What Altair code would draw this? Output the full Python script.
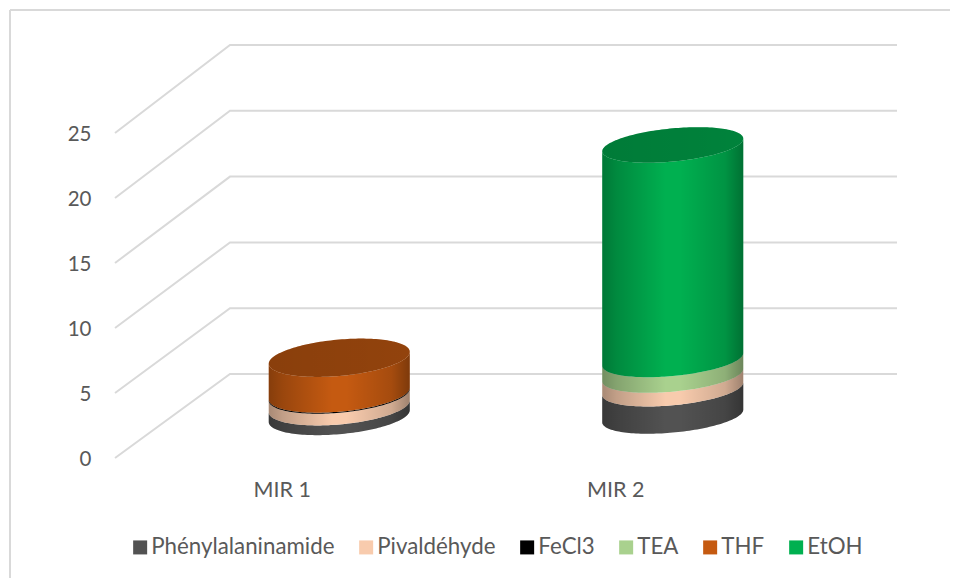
import json
import numpy as np
import pandas as pd
import altair as alt

# --- values ---
CATEGORIES = ["MIR 1", "MIR 2"]
SERIES = ["Phénylalaninamide", "Pivaldéhyde", "FeCl3", "TEA", "THF", "EtOH"]
COLORS = ["#525252", "#f8cbad", "#000000", "#a9d18e", "#c55a11", "#00b050"]
PHENYL = [0.75, 2.1]
PIVAL = [0.9, 1.05]
FECL3 = [0.08, 0.0]
TEA = [0.0, 1.2]
THF = [2.75, 0.0]
ETOH = [0.0, 16.5]
VALUES = [PHENYL, PIVAL, FECL3, TEA, THF, ETOH]
TICKS = [0, 5, 10, 15, 20, 25]

# --- layout of the fake 3D box (pixels) ---
W, H = 940, 568
LEFT, TOP = 10, 10
FLOOR_FRONT_X, FLOOR_FRONT_Y = 115, 458
CAT_W = 333.5
PX_PER_UNIT = 13.0
BACK_PX_PER_UNIT = 13.16
DEPTH_X, DEPTH_Y = 115, 84
BACK_RIGHT_X = 897
HALF_W = 70.5
TILT = [0.085, 0.09]
HALF_D = [18.2, 16.6]


def xv(px):
    return 0.5 + (px - FLOOR_FRONT_X) / CAT_W


def yv(px):
    return (FLOOR_FRONT_Y - px) / PX_PER_UNIT


x_scale = alt.Scale(domain=[xv(LEFT), xv(LEFT + W)], nice=False, zero=False)
y_scale = alt.Scale(domain=[yv(TOP + H), yv(TOP)], nice=False, zero=False)

# gridlines: front edge -> back edge -> right end
grid_rows = []
for t in TICKS:
    back = yv(FLOOR_FRONT_Y - DEPTH_Y - BACK_PX_PER_UNIT * t)
    for k, (xp, yy) in enumerate(
        [(FLOOR_FRONT_X, t), (FLOOR_FRONT_X + DEPTH_X, back), (BACK_RIGHT_X, back)]
    ):
        grid_rows.append({"tick": t, "k": k, "x": xv(xp), "y": yy})
grid_df = pd.DataFrame(grid_rows)

# cylinders
cos_t = -np.cos(np.linspace(0, np.pi, 81))
bands, shades, caps = [], [], []
mid_lift = DEPTH_Y / 2 / PX_PER_UNIT
for c, cat in enumerate(CATEGORIES):
    cx = c + 1 + DEPTH_X / 2 / CAT_W
    run = mid_lift
    start = run
    dx_units = cos_t * HALF_W / CAT_W
    shear = TILT[c] * cos_t * HALF_W / PX_PER_UNIT
    arc = HALF_D[c] * np.sqrt(1 - cos_t**2) / PX_PER_UNIT
    top_series = None
    for s, vals in zip(SERIES, VALUES):
        v = vals[c]
        if v <= 0:
            continue
        for d, sh, a in zip(dx_units, shear, arc):
            bands.append({"cat": cat, "series": s, "x": cx + d,
                          "y": run + sh - a, "y2": run + v + sh - a})
        run += v
        top_series = s
    for d, sh, a in zip(dx_units, shear, arc):
        shades.append({"cat": cat, "x": cx + d, "y": start + sh - a, "y2": run + sh - a})
        caps.append({"cat": cat, "series": top_series, "x": cx + d,
                     "y": run + sh - a, "y2": run + sh + a})
bands_df = pd.DataFrame(bands)
shades_df = pd.DataFrame(shades)
caps_df = pd.DataFrame(caps)

X = alt.X("x:Q", scale=x_scale,
          axis=alt.Axis(values=[1, 2], title=None, grid=False, domain=False, ticks=False,
                        labelExpr=json.dumps(CATEGORIES) + "[datum.value-1]",
                        labelFont="Lato", labelFontSize=21.5, labelColor="#595959",
                        labelPadding=0, offset=-(TOP + H - 479)))
Y = alt.Y("y:Q", scale=y_scale,
          axis=alt.Axis(values=TICKS, title=None, grid=False, domain=False, ticks=False,
                        labelFont="Lato", labelFontSize=20.5, labelColor="#595959",
                        labelPadding=0, labelOffset=1, offset=-(91 - LEFT)))
color = alt.Color(
    "series:N",
    scale=alt.Scale(domain=SERIES, range=COLORS),
    legend=alt.Legend(
        title=None, orient="none", legendX=119, legendY=526, direction="horizontal",
        columns=6, symbolType="square", symbolSize=196, symbolStrokeWidth=0,
        labelFont="Lato", labelFontSize=22.3, labelColor="#595959", labelOffset=0,
        columnPadding=20, padding=0, labelLimit=300,
    ),
)

one = pd.DataFrame({"a": [0]})
border_top = alt.Chart(one).mark_rule(color="#d9d9d9", strokeWidth=2).encode(
    x=alt.value(0), x2=alt.value(W), y=alt.value(0))
border_left = alt.Chart(one).mark_rule(color="#d9d9d9", strokeWidth=2).encode(
    x=alt.value(0), y=alt.value(0), y2=alt.value(H))

grid = alt.Chart(grid_df).mark_line(color="#d9d9d9", strokeWidth=2).encode(
    x=X, y=Y, detail="tick:N", order="k:Q",
)

side_grad = alt.Gradient(
    gradient="linear", x1=0, x2=1, y1=0, y2=0,
    stops=[
        alt.GradientStop(offset=0, color="rgba(0,0,0,0.32)"),
        alt.GradientStop(offset=0.1, color="rgba(0,0,0,0.22)"),
        alt.GradientStop(offset=0.45, color="rgba(0,0,0,0)"),
        alt.GradientStop(offset=0.55, color="rgba(0,0,0,0)"),
        alt.GradientStop(offset=0.87, color="rgba(0,0,0,0.16)"),
        alt.GradientStop(offset=1, color="rgba(0,0,0,0.36)"),
    ],
)
cap_grad = alt.Gradient(
    gradient="linear", x1=0, x2=1, y1=0, y2=0,
    stops=[
        alt.GradientStop(offset=0, color="rgba(0,0,0,0.3)"),
        alt.GradientStop(offset=1, color="rgba(0,0,0,0.26)"),
    ],
)

band_layer = alt.Chart(bands_df).mark_area(orient="vertical").encode(
    x=X, y=Y, y2="y2:Q", color=color, detail="cat:N")
shade_layer = alt.Chart(shades_df).mark_area(orient="vertical", color=side_grad).encode(
    x=X, y=Y, y2="y2:Q", detail="cat:N")
cap_layer = alt.Chart(caps_df).mark_area(orient="vertical").encode(
    x=X, y=Y, y2="y2:Q", color=color, detail="cat:N")
cap_shade = alt.Chart(caps_df).mark_area(orient="vertical", color=cap_grad).encode(
    x=X, y=Y, y2="y2:Q", detail="cat:N")

chart = alt.layer(
    border_top, border_left, grid, band_layer, shade_layer, cap_layer, cap_shade
).properties(
    width=W, height=H,
    padding={"left": 2, "top": 2, "right": 0, "bottom": 0},
    autosize=alt.AutoSizeParams(type="none"),
    background="white",
).configure_view(stroke=None)

chart.save("out.html", embed_options={"renderer": "svg", "actions": False})
